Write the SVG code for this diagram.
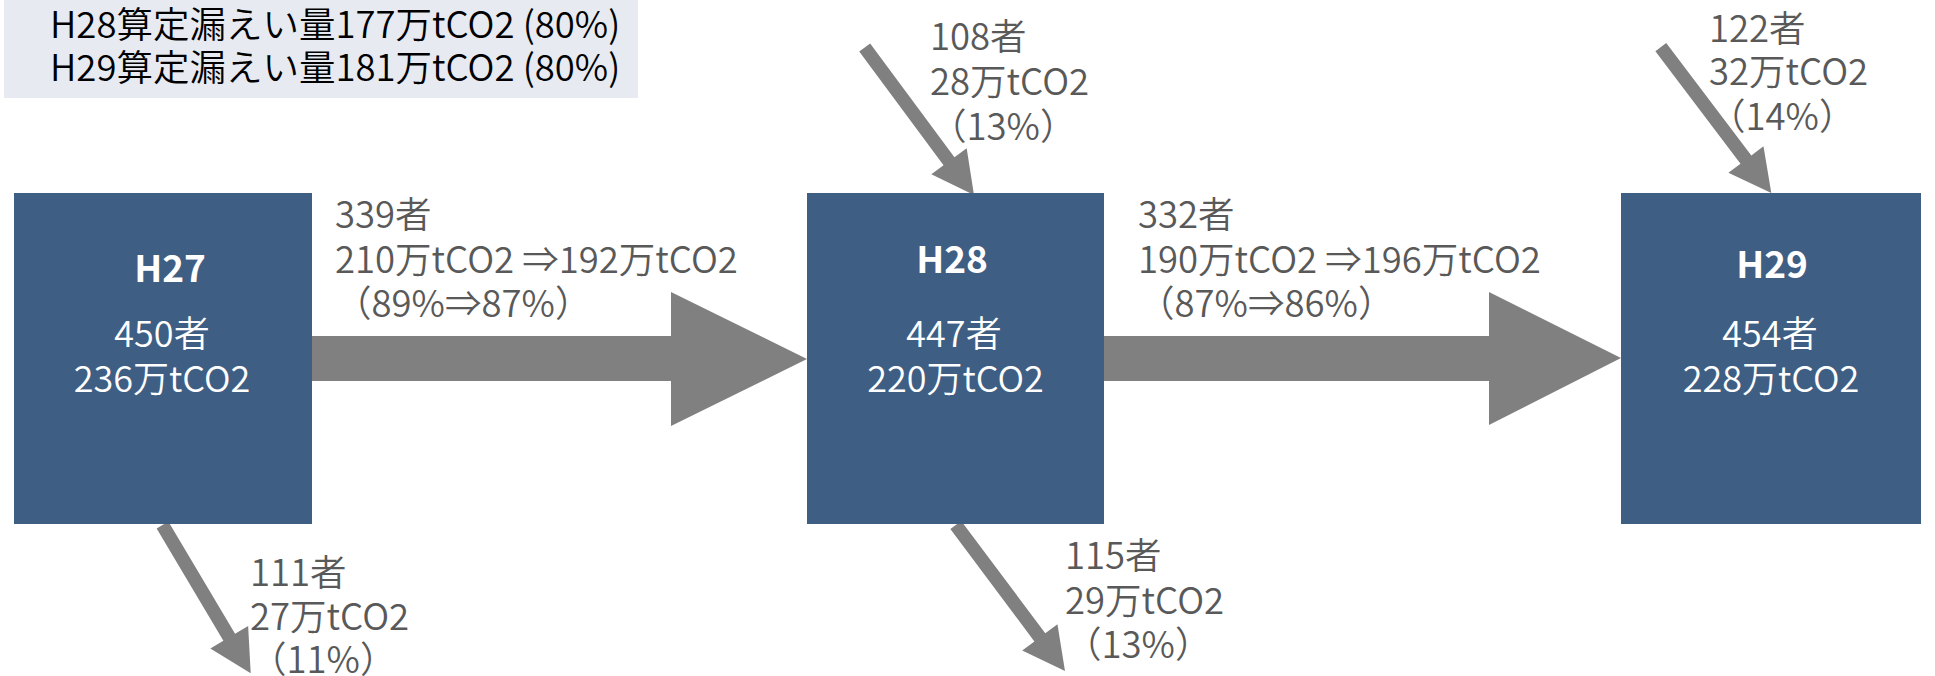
<svg xmlns="http://www.w3.org/2000/svg" width="1935" height="676" viewBox="0 0 1935 676">
  <style>
    .box { fill: #3E5E84; }
    .arrow { fill: #808080; }
    .t { font-family: "Noto Sans CJK JP", "Liberation Sans", sans-serif; font-size: 36px; font-weight: 350; }
    .lbl { fill: #595959; font-size: 36.5px; }
    .wh { fill: #FFFFFF; text-anchor: middle; }
    .hd { font-weight: bold; font-size: 37px; }
    .leg { fill: #000000; font-size: 36.5px; }
  </style>
  <rect width="1935" height="676" fill="#FFFFFF"/>

  <g id="legend">
    <rect x="4" y="0" width="634" height="98" fill="#E7EAF1"/>
    <text class="t leg" x="50" y="38">H28算定漏えい量177万tCO2 (80%)</text>
    <text class="t leg" x="50" y="81">H29算定漏えい量181万tCO2 (80%)</text>
  </g>

  <g id="connectors">
    <polygon id="arrow-h27-h28" class="arrow" points="312,336 671,336 671,292 807,359 671,426 671,381 312,381"/>
    <polygon id="arrow-h28-h29" class="arrow" points="1104,336 1489,336 1489,292 1621,358 1489,425 1489,381 1104,381"/>
    <polygon id="arrow-in-h28" class="arrow" points="859.24,51.55 943.54,165.31 931.33,174.36 974,195 966.67,148.16 954.46,157.21 870.16,43.45"/>
    <polygon id="arrow-out-h27" class="arrow" points="156.65,528.48 223.38,640.67 210.32,648.44 250.7,673.3 248.14,625.94 235.08,633.71 168.35,521.52"/>
    <polygon id="arrow-out-h28" class="arrow" points="950.35,529.07 1034.39,641.43 1022.22,650.54 1065,671 1057.46,624.18 1045.29,633.29 961.25,520.93"/>
    <polygon id="arrow-in-h29" class="arrow" points="1655.38,51.31 1740.51,163.63 1728.39,172.81 1771.3,193 1763.47,146.23 1751.35,155.41 1666.22,43.09"/>

    <g id="label-h27-h28" class="t lbl">
      <text x="335" y="228">339者</text>
      <text x="335" y="273">210万tCO2 ⇒192万tCO2</text>
      <text x="335" y="317">（89%⇒87%）</text>
    </g>
    <g id="label-h28-h29" class="t lbl">
      <text x="1138" y="228">332者</text>
      <text x="1138" y="273">190万tCO2 ⇒196万tCO2</text>
      <text x="1138" y="317">（87%⇒86%）</text>
    </g>
    <g id="label-in-h28" class="t lbl">
      <text x="930" y="50">108者</text>
      <text x="930" y="95">28万tCO2</text>
      <text x="930" y="140">（13%）</text>
    </g>
    <g id="label-in-h29" class="t lbl">
      <text x="1709" y="42">122者</text>
      <text x="1709" y="85">32万tCO2</text>
      <text x="1709" y="130">（14%）</text>
    </g>
    <g id="label-out-h27" class="t lbl">
      <text x="250" y="586">111者</text>
      <text x="250" y="630">27万tCO2</text>
      <text x="250" y="673">（11%）</text>
    </g>
    <g id="label-out-h28" class="t lbl">
      <text x="1065" y="569">115者</text>
      <text x="1065" y="614">29万tCO2</text>
      <text x="1065" y="658">（13%）</text>
    </g>
  </g>

  <g id="node-h27">
    <rect class="box" x="14" y="193" width="298" height="331"/>
    <text class="t wh hd" x="170" y="282">H27</text>
    <text class="t wh" x="162" y="347">450者</text>
    <text class="t wh" x="162" y="392">236万tCO2</text>
  </g>
  <g id="node-h28">
    <rect class="box" x="807" y="193" width="297" height="331"/>
    <text class="t wh hd" x="952" y="273">H28</text>
    <text class="t wh" x="954" y="347">447者</text>
    <text class="t wh" x="955.5" y="392">220万tCO2</text>
  </g>
  <g id="node-h29">
    <rect class="box" x="1621" y="193" width="300" height="331"/>
    <text class="t wh hd" x="1772" y="278">H29</text>
    <text class="t wh" x="1770" y="347">454者</text>
    <text class="t wh" x="1771" y="392">228万tCO2</text>
  </g>
</svg>
